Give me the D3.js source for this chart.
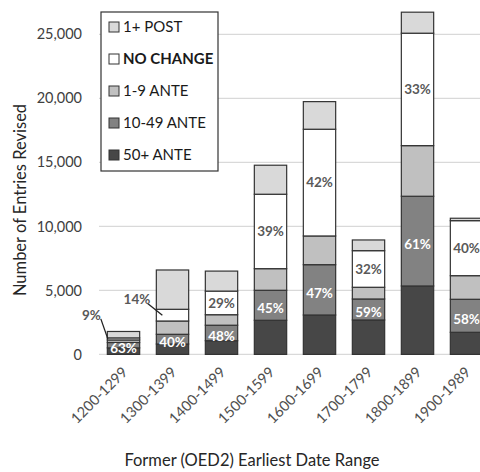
<!DOCTYPE html>
<html>
<head>
<meta charset="utf-8">
<script src="https://cdn.jsdelivr.net/npm/d3@7"></script>
<style>
  body { margin: 0; background: #fff; }
  svg { font-family: Lato, "Open Sans", sans-serif; display: block; }
</style>
</head>
<body>
<div class="viz"></div>
<script>
// data (entries revised per date range)
var categories = ["1200-1299", "1300-1399", "1400-1499", "1500-1599", "1600-1699", "1700-1799", "1800-1899", "1900-1989"];
var ante50plus = [510, 812, 1070, 2664, 3078, 2688, 5344, 1727];
var ante10to49 = [420, 758, 1210, 2344, 3930, 1641, 7008, 2578];
var ante1to9   = [200, 1039, 820, 1688, 2242, 914, 3953, 1844];
var noChange   = [160, 914, 1844, 5813, 8336, 2859, 8781, 4297];
var post1plus  = [500, 3070, 1562, 2266, 2156, 836, 1641, 188];
var noChangeLabels = ["9%", "14%", "29%", "39%", "42%", "32%", "33%", "40%"];
var anteLabels     = ["63%", "40%", "48%", "45%", "47%", "59%", "61%", "58%"];
var yTicks = [0, 5000, 10000, 15000, 20000, 25000];

var series = [
  {key: "50+ ANTE",  values: ante50plus, color: "#474747"},
  {key: "10-49 ANTE", values: ante10to49, color: "#828282"},
  {key: "1-9 ANTE",  values: ante1to9,   color: "#c0c0c0"},
  {key: "NO CHANGE", values: noChange,   color: "#ffffff", bold: true},
  {key: "1+ POST",   values: post1plus,  color: "#d9d9d9"}
];

var W = 480, H = 472;

var svg = d3.select(".viz")
  .append("svg")
    .attr("width", W)
    .attr("height", H);

var x = d3.scaleBand()
  .domain(categories)
  .range([99, 99 + 8 * 49])
  .paddingInner(0.34)
  .paddingOuter(0.17);

var y = d3.scaleLinear()
  .domain([0, 25000])
  .range([354.4, 34.3]);

// gridlines
svg.append("g")
  .selectAll("line")
  .data(yTicks)
  .join("line")
    .attr("x1", 99)
    .attr("x2", W)
    .attr("y1", d => y(d))
    .attr("y2", d => y(d))
    .attr("stroke", "#d9d9d9")
    .attr("stroke-width", 1.3);

// y axis labels
var yAxis = svg.append("g")
  .attr("transform", "translate(90,0)")
  .call(d3.axisLeft(y).tickValues(yTicks).tickSize(0).tickPadding(8).tickFormat(d3.format(",")));
yAxis.select(".domain").remove();
yAxis.selectAll("text")
  .attr("fill", "#404040")
  .style("font-size", "14.5px")
  .style("font-family", "Lato, sans-serif");

// stacked bars
var stackData = categories.map(function(c, i) {
  var row = {cat: c};
  series.forEach(s => row[s.key] = s.values[i]);
  return row;
});
var stack = d3.stack().keys(series.map(s => s.key));
var layers = stack(stackData);

svg.append("g")
  .selectAll("g")
  .data(layers)
  .join("g")
    .attr("fill", (d, i) => series[i].color)
  .selectAll("rect")
  .data(d => d)
  .join("rect")
    .attr("x", d => x(d.data.cat))
    .attr("width", x.bandwidth())
    .attr("y", d => y(d[1]))
    .attr("height", d => y(d[0]) - y(d[1]))
    .attr("stroke", "#333")
    .attr("stroke-width", 1.2);

// percentage labels
var ncLayer = layers[3], l10 = layers[1];
var labelG = svg.append("g")
  .style("font-size", "13.5px")
  .style("font-weight", "bold");

categories.forEach(function(c, i) {
  var seg = ncLayer[i];
  var midNC = (y(seg[0]) + y(seg[1])) / 2;
  var cx = x(c) + x.bandwidth() / 2;
  if (i < 2) {
    // small white segments get a leader line
    var ex = i == 0 ? x(c) + 0.5 : x(c) + 6;
    var ey = midNC;
    var lx = i == 0 ? ex - 7 : ex - 12;
    var ly = i == 0 ? ey - 24 : ey - 16;
    labelG.append("line")
      .attr("x1", ex).attr("y1", ey)
      .attr("x2", i == 0 ? ex - 7 : ex - 15).attr("y2", i == 0 ? ey - 20 : ey - 12)
      .attr("stroke", "#222").attr("stroke-width", 1.3);
    labelG.append("text")
      .attr("x", lx).attr("y", ly)
      .attr("text-anchor", "end")
      .attr("dy", "0.35em")
      .attr("fill", "#595959")
      .text(noChangeLabels[i]);
  } else {
    labelG.append("text")
      .attr("x", cx).attr("y", midNC)
      .attr("text-anchor", "middle")
      .attr("dy", "0.35em")
      .attr("fill", "#595959")
      .text(noChangeLabels[i]);
  }
  var s10 = l10[i];
  var mid10 = (y(s10[0]) + y(s10[1])) / 2;
  labelG.append("text")
    .attr("x", cx).attr("y", Math.min(mid10 + 3, y(0) - 6))
    .attr("text-anchor", "middle")
    .attr("dy", "0.35em")
    .attr("fill", "#fff")
    .text(anteLabels[i]);
});

// x tick labels, rotated
svg.append("g")
  .selectAll("text")
  .data(categories)
  .join("text")
    .attr("transform", d => "translate(" + (x(d) + x.bandwidth() / 2 + 5) + ",373) rotate(-45)")
    .attr("text-anchor", "end")
    .attr("fill", "#505050")
    .style("font-size", "14.5px")
    .text(d => d);

// axis titles
svg.append("text")
  .attr("x", 252)
  .attr("y", 466)
  .attr("text-anchor", "middle")
  .attr("fill", "#262626")
  .style("font-size", "16.5px")
  .text("Former (OED2) Earliest Date Range");

svg.append("text")
  .attr("transform", "translate(26,200) rotate(-90)")
  .attr("text-anchor", "middle")
  .attr("fill", "#262626")
  .style("font-size", "16.5px")
  .text("Number of Entries Revised");

// legend
var legend = svg.append("g").attr("transform", "translate(101,12)");
legend.append("rect")
  .attr("width", 117)
  .attr("height", 159)
  .attr("fill", "#fff")
  .attr("stroke", "#333")
  .attr("stroke-width", 1.2);

var items = series.slice().reverse();
var li = legend.selectAll("g.item")
  .data(items)
  .join("g")
    .attr("class", "item")
    .attr("transform", (d, i) => "translate(8," + (15 + i * 32) + ")");
li.append("rect")
  .attr("x", 0).attr("y", -5)
  .attr("width", 10).attr("height", 10)
  .attr("fill", d => d.color)
  .attr("stroke", "#333")
  .attr("stroke-width", 1);
li.append("text")
  .attr("x", 14)
  .attr("dy", "0.36em")
  .attr("fill", "#1a1a1a")
  .style("font-size", "15px")
  .style("font-weight", d => d.bold ? "bold" : "normal")
  .text(d => d.key);
</script>
</body>
</html>
